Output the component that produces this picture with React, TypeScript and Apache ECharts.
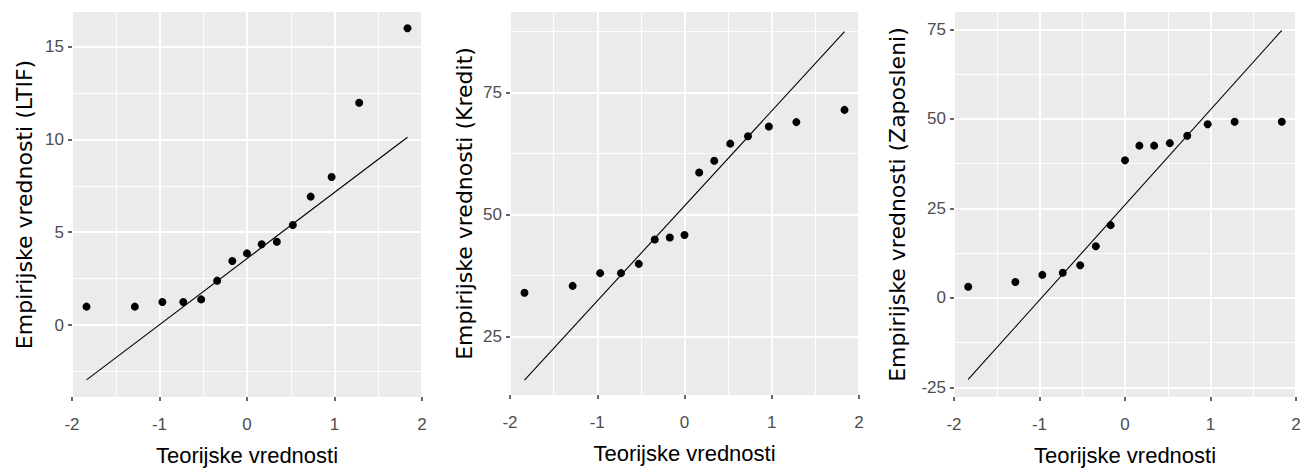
import React, { useEffect, useRef } from "react";
import * as echarts from "echarts";

// Theoretical normal quantiles (n = 15)
const theoretical = [-1.834, -1.282, -0.967, -0.728, -0.524, -0.341, -0.168, 0, 0.168, 0.341, 0.524, 0.728, 0.967, 1.282, 1.834];

// Empirical (sorted) values
const ltif = [0.99, 0.99, 1.24, 1.24, 1.38, 2.39, 3.45, 3.86, 4.35, 4.49, 5.39, 6.92, 7.98, 11.98, 15.99];
const kredit = [34.0, 35.4, 38.0, 38.0, 39.9, 44.9, 45.3, 45.8, 58.6, 61.0, 64.5, 66.0, 68.0, 68.9, 71.4];
const zaposleni = [3.1, 4.4, 6.4, 7.0, 9.1, 14.4, 20.3, 38.4, 42.5, 42.5, 43.2, 45.25, 48.5, 49.2, 49.2];

// QQ reference line values at first / last theoretical quantile
const ltifLine = [-2.96, 10.12];
const kreditLine = [16.1, 87.4];
const zaposleniLine = [-22.8, 74.7];

// Axis ticks
const xRange = [-2, 2];
const ltifTicks = [0, 5, 10, 15];
const ltifMinor = [-2.5, 2.5, 7.5, 12.5];
const kreditTicks = [25, 50, 75];
const kreditMinor = [37.5, 62.5, 87.5];
const zaposleniTicks = [-25, 0, 25, 50, 75];
const zaposleniMinor = [-12.5, 12.5, 37.5, 62.5];

const xTitle = "Teorijske vrednosti";
const yTitles = [
  "Empirijske vrednosti (LTIF)",
  "Empirijske vrednosti (Kredit)",
  "Empirijske vrednosti (Zaposleni)",
];

export default function App() {
  const ref = useRef<HTMLDivElement>(null);

  useEffect(() => {
    if (!ref.current) return;
    const chart = echarts.init(ref.current, undefined, { renderer: "svg" });

    const panels = [
      { grid: { left: 72, top: 12, width: 350, height: 385 }, y: ltif, line: ltifLine, ticks: ltifTicks, minor: ltifMinor, min: -3.88, max: 16.87, gap: 37 },
      { grid: { left: 510, top: 12, width: 349, height: 383 }, y: kredit, line: kreditLine, ticks: kreditTicks, minor: kreditMinor, min: 13.07, max: 91.43, gap: 35 },
      { grid: { left: 954, top: 12, width: 342, height: 385 }, y: zaposleni, line: zaposleniLine, ticks: zaposleniTicks, minor: zaposleniMinor, min: -27.7, max: 79.83, gap: 46 },
    ];

    const tickFont = { color: "#4D4D4D", fontSize: 17, fontFamily: "Liberation Sans, Arial, sans-serif" };

    const grids: any[] = [];
    const xAxes: any[] = [];
    const yAxes: any[] = [];
    const series: any[] = [];

    panels.forEach((p, i) => {
      grids.push({ ...p.grid, show: true, backgroundColor: "#EBEBEB", borderWidth: 0, containLabel: false });
      xAxes.push({
        type: "value",
        gridIndex: i,
        min: xRange[0],
        max: xRange[1],
        interval: 1,
        name: xTitle,
        nameLocation: "middle",
        nameGap: 47,
        nameTextStyle: { color: "#000", fontSize: 22, fontFamily: "Liberation Sans, Arial, sans-serif" },
        axisLine: { show: false, onZero: false },
        axisTick: { show: true, length: 4, lineStyle: { color: "#333333", width: 1.5 } },
        axisLabel: { ...tickFont, margin: 19 },
        splitLine: { show: true, lineStyle: { color: "#FFFFFF", width: 1.8 } },
        minorTick: { show: false, splitNumber: 2 },
        minorSplitLine: { show: true, lineStyle: { color: "#FFFFFF", width: 0.9 } },
      });
      yAxes.push({
        type: "value",
        gridIndex: i,
        position: "left",
        min: p.min,
        max: p.max,
        name: yTitles[i],
        nameLocation: "middle",
        nameGap: p.gap,
        nameTextStyle: { color: "#000", fontSize: 22, fontFamily: "DejaVu Sans, sans-serif" },
        axisLine: { show: false, onZero: false },
        axisTick: { show: true, length: 4, customValues: p.ticks, lineStyle: { color: "#333333", width: 1.5 } },
        axisLabel: { ...tickFont, margin: 8, customValues: p.ticks },
        splitLine: { show: false },
      });
      // horizontal grid lines (minor then major) drawn through the y scale
      series.push({
        type: "lines",
        coordinateSystem: "cartesian2d",
        xAxisIndex: i,
        yAxisIndex: i,
        polyline: false,
        silent: true,
        z: 1,
        lineStyle: { color: "#FFFFFF", width: 0.9, opacity: 1 },
        data: p.minor.map((v) => ({ coords: [[xRange[0], v], [xRange[1], v]] })),
      });
      series.push({
        type: "lines",
        coordinateSystem: "cartesian2d",
        xAxisIndex: i,
        yAxisIndex: i,
        polyline: false,
        silent: true,
        z: 1,
        lineStyle: { color: "#FFFFFF", width: 1.8, opacity: 1 },
        data: p.ticks.map((v) => ({ coords: [[xRange[0], v], [xRange[1], v]] })),
      });
      series.push({
        type: "line",
        xAxisIndex: i,
        yAxisIndex: i,
        data: [
          [theoretical[0], p.line[0]],
          [theoretical[theoretical.length - 1], p.line[1]],
        ],
        symbol: "none",
        lineStyle: { color: "#000", width: 1.1 },
        silent: true,
        z: 3,
      });
      series.push({
        type: "scatter",
        xAxisIndex: i,
        yAxisIndex: i,
        data: theoretical.map((x, k) => [x, p.y[k]]),
        symbol: "circle",
        symbolSize: 8,
        itemStyle: { color: "#000000", opacity: 1 },
        z: 4,
      });
    });

    chart.setOption({
      animation: false,
      backgroundColor: "#FFFFFF",
      grid: grids,
      xAxis: xAxes,
      yAxis: yAxes,
      series,
    });

    return () => chart.dispose();
  }, []);

  return <div ref={ref} style={{ position: "fixed", left: 0, top: 0, width: 1310, height: 471 }} />;
}
